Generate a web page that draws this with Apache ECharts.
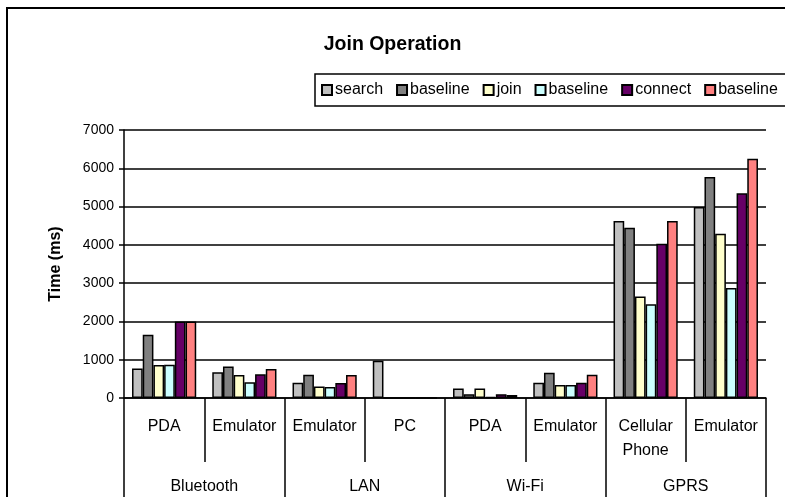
<!DOCTYPE html>
<html>
<head>
<meta charset="utf-8">
<title>Join Operation</title>
<script src="https://cdn.jsdelivr.net/npm/echarts@6/dist/echarts.min.js"></script>
<style>
  html, body { margin: 0; padding: 0; background: #fff; }
  #chart { width: 785px; height: 497px; }
</style>
</head>
<body>
<div id="chart"></div>
<script>
// Sub-categories (device) and their network groups
const devices = ['PDA', 'Emulator', 'Emulator', 'PC', 'PDA', 'Emulator', 'Cellular\nPhone', 'Emulator'];
const networks = ['Bluetooth', 'LAN', 'Wi-Fi', 'GPRS'];

// Times in ms, one value per device column
const searchTimes         = [770, 670, 400, 970, 250, 400, 4620, 4990];
const searchBaseline      = [1650, 820, 610, 0, 100, 660, 4450, 5770];
const joinTimes           = [860, 600, 300, 0, 250, 340, 2650, 4290];
const joinBaseline        = [870, 410, 290, 0, 30, 340, 2450, 2870];
const connectTimes        = [2000, 620, 390, 0, 100, 400, 4030, 5350];
const connectBaseline     = [2000, 760, 600, 0, 80, 610, 4620, 6250];

const yTicks = { min: 0, max: 7000, interval: 1000 };

const FONT = 'Liberation Sans, Arial, sans-serif';

const seriesDefs = [
  { name: 'search',              data: searchTimes,     color: '#C0C0C0' },
  { name: 'baseline (search)',   data: searchBaseline,  color: '#808080' },
  { name: 'join',                data: joinTimes,       color: '#FFFFCC' },
  { name: 'baseline (join)',     data: joinBaseline,    color: '#CCFFFF' },
  { name: 'connect',             data: connectTimes,    color: '#660066' },
  { name: 'baseline (connect)',  data: connectBaseline, color: '#FF8080' }
];

const chart = echarts.init(document.getElementById('chart'), null, { renderer: 'canvas' });

chart.setOption({
  animation: false,
  backgroundColor: '#fff',
  title: {
    text: 'Join Operation',
    left: 'center',
    top: 30,
    textStyle: { fontFamily: FONT, fontSize: 19.5, fontWeight: 'bold', color: '#000' }
  },
  legend: {
    left: 315,
    top: 74,
    width: 700,
    padding: [8, 6, 8, 6],
    itemWidth: 10,
    itemHeight: 10,
    itemGap: 13,
    icon: 'rect',
    formatter: name => (name.indexOf('baseline') === 0 ? 'baseline' : name),
    textStyle: { fontFamily: FONT, fontSize: 16, color: '#000', padding: [0, 0, 0, -2] },
    data: seriesDefs.map(s => s.name)
  },
  graphic: [
    {
      // outer chart frame, running past the right and bottom edges
      type: 'rect',
      shape: { x: 7, y: 8, width: 900, height: 600 },
      style: { fill: 'none', stroke: '#000', lineWidth: 2 },
      silent: true,
      z: -1
    },
    {
      // legend frame, also running past the right edge
      type: 'rect',
      shape: { x: 315, y: 74, width: 600, height: 32 },
      style: { fill: 'none', stroke: '#000', lineWidth: 1.5 },
      silent: true,
      z: -1
    }
  ],
  grid: { left: 124, right: 19, top: 130, bottom: 99 },
  xAxis: [
    {
      type: 'category',
      data: devices,
      axisLine: { show: true, lineStyle: { color: '#000', width: 1.5 } },
      axisTick: { show: true, interval: 0, length: 64, lineStyle: { color: '#000', width: 1.5 } },
      axisLabel: {
        show: true, interval: 0, margin: 17, color: '#000',
        fontFamily: FONT, fontSize: 16, lineHeight: 24
      }
    },
    {
      type: 'category',
      data: networks,
      position: 'bottom',
      axisLine: { show: false },
      axisTick: { show: true, interval: 0, length: 100, lineStyle: { color: '#000', width: 1.5 } },
      axisLabel: {
        show: true, interval: 0, margin: 81, color: '#000',
        fontFamily: FONT, fontSize: 16
      }
    }
  ],
  yAxis: {
    type: 'value',
    min: yTicks.min,
    max: yTicks.max,
    interval: yTicks.interval,
    name: 'Time (ms)',
    nameLocation: 'middle',
    nameRotate: 90,
    nameGap: 60,
    nameTextStyle: { fontFamily: FONT, fontSize: 16, fontWeight: 'bold', color: '#000' },
    axisLine: { show: true, lineStyle: { color: '#000', width: 1.5 } },
    axisTick: { show: true, length: 5, lineStyle: { color: '#000', width: 1.5 } },
    axisLabel: { color: '#000', fontFamily: FONT, fontSize: 14, margin: 10, formatter: v => String(v) },
    splitLine: { show: true, lineStyle: { color: '#000', width: 1.5 } }
  },
  series: seriesDefs.map(s => ({
    type: 'bar',
    name: s.name,
    data: s.data,
    xAxisIndex: 0,
    barGap: '0%',
    barCategoryGap: '20%',
    itemStyle: { color: s.color, borderColor: '#000', borderWidth: 1.5 }
  }))
});
</script>
</body>
</html>
